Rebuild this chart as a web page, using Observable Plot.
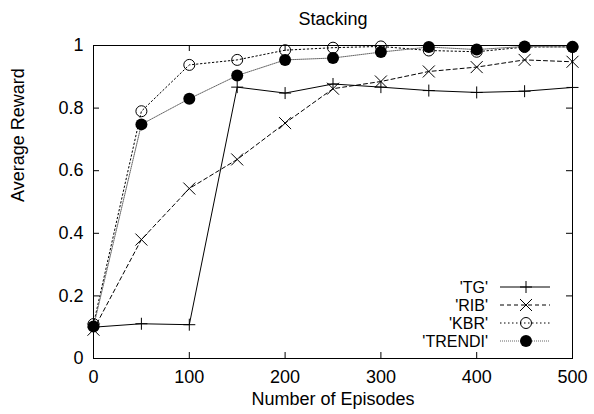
<!DOCTYPE html>
<html><head><meta charset="utf-8">
<script src="https://cdn.jsdelivr.net/npm/d3@7"></script>
<script src="https://cdn.jsdelivr.net/npm/@observablehq/plot@0.6"></script>
<style>
body{margin:0;background:#fff}
svg{font-family:"Liberation Sans",Arial,Helvetica,sans-serif}
</style>
</head><body><div id="chart"></div>
<script>
const episodes = [0, 50, 100, 150, 200, 250, 300, 350, 400, 450, 500];
const tg     = [0.100, 0.111, 0.108, 0.867, 0.848, 0.877, 0.867, 0.856, 0.850, 0.854, 0.866];
const rib    = [0.092, 0.380, 0.543, 0.636, 0.752, 0.862, 0.885, 0.917, 0.931, 0.954, 0.948];
const kbr    = [0.110, 0.790, 0.938, 0.954, 0.985, 0.993, 0.997, 0.984, 0.980, 0.995, 0.996];
const trendi = [0.102, 0.748, 0.830, 0.904, 0.954, 0.960, 0.979, 0.995, 0.987, 0.997, 0.995];
const seriesNames = ["'TG'", "'RIB'", "'KBR'", "'TRENDI'"];
const seriesValues = [tg, rib, kbr, trendi];
const xTicks = [0, 100, 200, 300, 400, 500];
const yTicks = [0, 0.2, 0.4, 0.6, 0.8, 1];
const yTickLabels = ["0", "0.2", "0.4", "0.6", "0.8", "1"];
const titleText = "Stacking";
const xLabel = "Number of Episodes";
const yLabel = "Average Reward";

// custom thin symbols
const plusSym = {draw(ctx, size) { const r = Math.sqrt(size / Math.PI); ctx.moveTo(-r, 0); ctx.lineTo(r, 0); ctx.moveTo(0, -r); ctx.lineTo(0, r); }};
const timesSym = {draw(ctx, size) { const r = Math.sqrt(size / Math.PI) * 0.75; ctx.moveTo(-r, -r); ctx.lineTo(r, r); ctx.moveTo(-r, r); ctx.lineTo(r, -r); }};
const circleSym = {draw(ctx, size) { const r = Math.sqrt(size / Math.PI); ctx.moveTo(r, 0); ctx.arc(0, 0, r, 0, 2 * Math.PI); }};

const styles = [
  {stroke: "#000", dash: null, width: 1, symbol: plusSym, r: 6, fill: "none"},
  {stroke: "#000", dash: "4,3", width: 1, symbol: timesSym, r: 8, fill: "none"},
  {stroke: "#000", dash: "1.5,2.5", width: 1, symbol: circleSym, r: 5.5, fill: "none"},
  {stroke: "#666", dash: "1,1", width: 1, symbol: circleSym, r: 6, fill: "#000"}
];

const rows = [];
seriesValues.forEach((vals, s) => vals.forEach((v, i) => rows.push({series: seriesNames[s], s, episode: episodes[i], reward: v})));

const W = 594, H = 414, mL = 93, mR = 22, mT = 45, mB = 56;
const fw = W - mL - mR, fh = H - mT - mB, tick = 6;

const marks = [
  Plot.frame({stroke: "#000", strokeWidth: 1}),
  Plot.ruleX(xTicks, {insetTop: fh - tick, stroke: "#000"}),
  Plot.ruleX(xTicks, {insetBottom: fh - tick, stroke: "#000"}),
  Plot.ruleY(yTicks, {insetRight: fw - tick, stroke: "#000"}),
  Plot.ruleY(yTicks, {insetLeft: fw - tick, stroke: "#000"}),
  Plot.axisX(xTicks, {tickSize: 0, tickPadding: 12, label: null, fontSize: 18, fill: "#000"}),
  Plot.axisY(yTicks, {tickSize: 0, tickPadding: 10, label: null, fontSize: 18, fill: "#000", tickFormat: d => yTickLabels[yTicks.indexOf(d)]}),
  Plot.text([titleText], {frameAnchor: "top", dy: -33, fontSize: 18, fill: "#000"}),
  Plot.text([xLabel], {frameAnchor: "bottom", dy: 46, fontSize: 18, fill: "#000"}),
  Plot.text([yLabel], {frameAnchor: "left", dx: -75, rotate: -90, fontSize: 18, fill: "#000"})
];

seriesNames.forEach((name, s) => {
  const st = styles[s];
  const data = rows.filter(d => d.s === s);
  marks.push(Plot.line(data, {x: "episode", y: "reward", stroke: st.stroke, strokeWidth: st.width, strokeDasharray: st.dash}));
  marks.push(Plot.dot(data, {x: "episode", y: "reward", symbol: st.symbol, r: st.r, stroke: st.fill === "none" ? "#000" : "none", fill: st.fill, strokeWidth: 1}));
});

// legend drawn in pixel space relative to the frame
marks.push((index, scales, values, dimensions) => {
  const right = dimensions.width - dimensions.marginRight;
  const bottom = dimensions.height - dimensions.marginBottom;
  const g = d3.create("svg:g");
  seriesNames.forEach((name, s) => {
    const st = styles[s];
    const y = bottom - 71 + s * 18;
    g.append("text").attr("x", right - 84).attr("y", y).attr("dy", "0.35em")
      .attr("text-anchor", "end").attr("font-size", 16).attr("fill", "#000").text(name);
    g.append("line").attr("x1", right - 72).attr("x2", right - 22).attr("y1", y).attr("y2", y)
      .attr("stroke", st.stroke).attr("stroke-width", st.width).attr("stroke-dasharray", st.dash);
    const p = d3.path();
    st.symbol.draw(p, st.r * st.r * Math.PI);
    g.append("path").attr("transform", `translate(${right - 46},${y})`).attr("d", p.toString())
      .attr("fill", st.fill).attr("stroke", st.fill === "none" ? "#000" : "none");
  });
  return g.node();
});

const chart = Plot.plot({
  width: W, height: H,
  marginLeft: mL, marginRight: mR, marginTop: mT, marginBottom: mB,
  x: {domain: [0, 500], axis: null},
  y: {domain: [0, 1], axis: null},
  style: {background: "#fff", color: "#000", fontFamily: "Liberation Sans, Arial, sans-serif", fontSize: "18px"},
  marks
});
document.getElementById("chart").appendChild(chart);
</script>
</body></html>
